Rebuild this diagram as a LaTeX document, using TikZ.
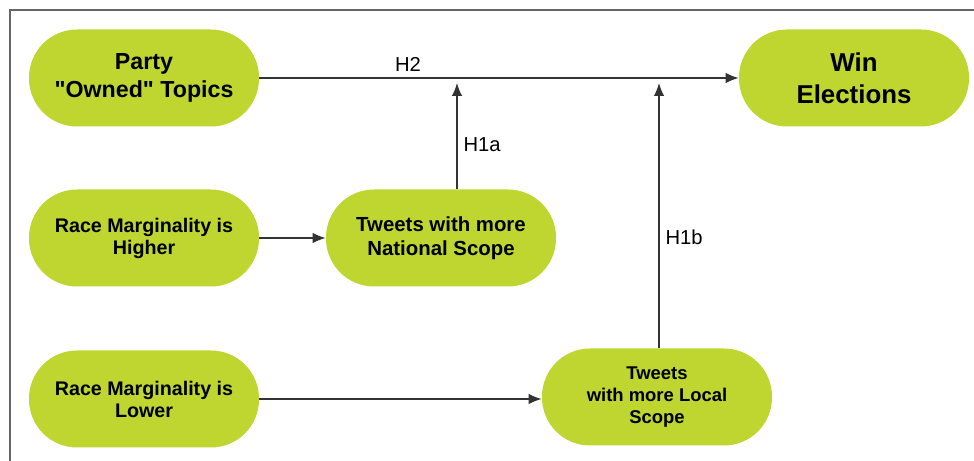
\documentclass[tikz,border=0pt]{standalone}
\usepackage{fontspec}
\setmainfont{Liberation Sans}
\usepackage{xcolor}
\usetikzlibrary{positioning, arrows.meta, calc}
\definecolor{lime}{HTML}{BED62F}
\definecolor{framegrey}{HTML}{666666}
\definecolor{linegrey}{HTML}{333333}

\begin{document}
\begin{tikzpicture}[
  arr/.style={-{Latex[length=2.6mm, width=2.1mm]}, line width=0.75pt, draw=linegrey},
  pill/.style={
    rectangle, rounded corners=9.6mm, fill=lime,
    text=black, font=\fontsize{11.2}{12.5}\selectfont\bfseries,
    minimum width=4.6cm, minimum height=1.94cm,
    align=center, inner sep=2pt
  },
  bigpill/.style={pill, font=\fontsize{13.2}{16}\selectfont\bfseries},
  hlab/.style={font=\fontsize{11.5}{13}\selectfont, text=black}
]

%% 974 x 461 px at 0.02 cm per px
\useasboundingbox (0, 0) rectangle (19.48, -9.22);

%% frame (only top and left edges show)
\draw[framegrey, line width=1.1pt] (0.2, -9.22) |- (19.48, -0.2);

%% ─── TOP ROW ───────────────────────────────────────────────
\node[bigpill] (party) at (2.88, -1.56)
  {Party\\\textquotedbl Owned\textquotedbl{} Topics};
\node[pill, font=\fontsize{14.7}{18}\selectfont\bfseries] (win) at (17.08, -1.56)
  {Win\\Elections};

%% ─── MIDDLE ROW ────────────────────────────────────────────
\node[pill] (racehi) at (2.88, -4.76)
  {Race Marginality is\\Higher};
\node[pill, font=\fontsize{11.6}{13.6}\selectfont\bfseries] (national) at (8.82, -4.76)
  {Tweets with more\\National Scope};

%% ─── BOTTOM ROW ────────────────────────────────────────────
\node[pill] (racelo) at (2.88, -7.98)
  {Race Marginality is\\Lower};
\node[pill, font=\fontsize{10.5}{12.3}\selectfont\bfseries] (local) at (13.14, -7.94)
  {Tweets\\with more Local\\Scope};

%% ─── CONNECTORS ────────────────────────────────────────────
\draw[arr] (party) -- (win)
  node[hlab, pos=0.31, above] {H2};

\draw[arr] (racehi) -- (national);
\draw[arr] (racelo.east) -- (racelo.east -| local.west);

%% hypotheses feeding into the H2 line
\coordinate (h1a) at (9.14, -1.56);
\coordinate (h1b) at (13.18, -1.56);
\draw[arr, shorten >=1mm] (h1a |- national.north) -- (h1a)
  node[hlab, pos=0.4, right] {H1a};
\draw[arr, shorten >=1mm] (h1b |- local.north) -- (h1b)
  node[hlab, pos=0.41, right] {H1b};

\end{tikzpicture}
\end{document}
